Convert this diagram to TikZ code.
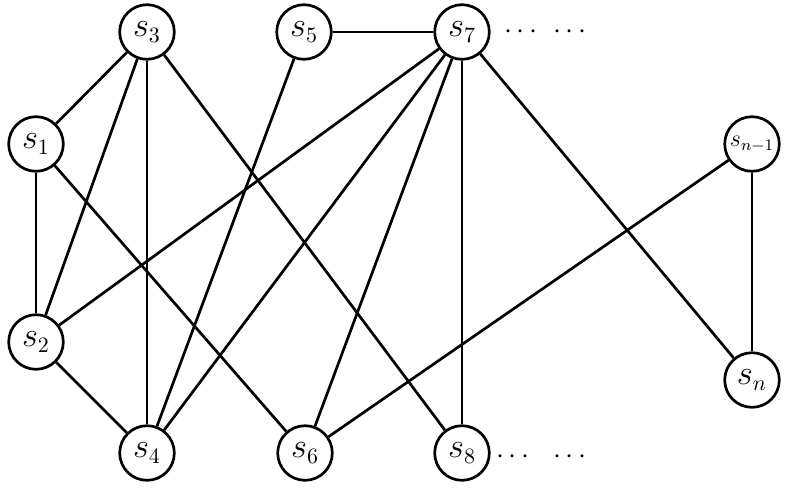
\documentclass[tikz,border=0pt]{standalone}
\begin{document}
\begin{tikzpicture}[x=0.5pt,y=-0.5pt,
  vtx/.style={circle,draw,line width=1.35pt,minimum size=27.3pt,inner sep=0pt,font=\fontsize{16}{18}\selectfont},
  edge/.style={line width=1.35pt},
  dotsep/.style={inner sep=0pt,font=\fontsize{15}{17}\selectfont}]
\useasboundingbox (0,0) rectangle (785,487);
\node[vtx] (s3) at (147,32) {$s_3$};
\node[vtx] (s5) at (304,32) {$s_5$};
\node[vtx] (s7) at (462,32) {$s_7$};
\node[vtx] (s1) at (36,144) {$s_1$};
\node[vtx] (s2) at (36,342) {$s_2$};
\node[vtx] (s4) at (147,453) {$s_4$};
\node[vtx] (s6) at (305,453) {$s_6$};
\node[vtx] (s8) at (462,453) {$s_8$};
\node[vtx] (sn1) at (752,144) {\fontsize{11.5}{13}\selectfont$s_{n-1}$};
\node[vtx] (sn) at (752,380) {$s_n$};
\node[dotsep] (d1) at (521,32) {$\cdot$\hspace{2.3pt}$\cdot$\hspace{2.3pt}$\cdot$};
\node[dotsep] (d2) at (570,32) {$\cdot$\hspace{2.3pt}$\cdot$\hspace{2.3pt}$\cdot$};
\node[dotsep] (d3) at (513,457) {$\cdot$\hspace{2.3pt}$\cdot$\hspace{2.3pt}$\cdot$};
\node[dotsep] (d4) at (570,457) {$\cdot$\hspace{2.3pt}$\cdot$\hspace{2.3pt}$\cdot$};
\draw[edge] (s1) -- (s3);
\draw[edge] (s1) -- (s2);
\draw[edge] (s1) -- (s6);
\draw[edge] (s3) -- (s2);
\draw[edge] (s3) -- (s4);
\draw[edge] (s3) -- (s8);
\draw[edge] (s2) -- (s4);
\draw[edge] (s2) -- (s7);
\draw[edge] (s5) -- (s4);
\draw[edge] (s5) -- (s7);
\draw[edge] (s7) -- (s4);
\draw[edge] (s7) -- (s6);
\draw[edge] (s7) -- (s8);
\draw[edge] (s7) -- (sn);
\draw[edge] (sn1) -- (s6);
\draw[edge] (sn1) -- (sn);
\end{tikzpicture}
\end{document}
